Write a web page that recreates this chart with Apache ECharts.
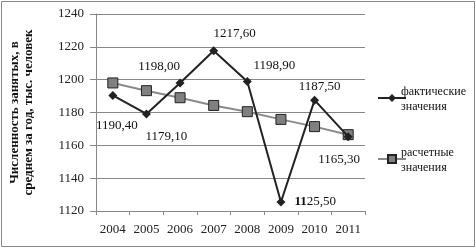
<!DOCTYPE html>
<html>
<head>
<meta charset="utf-8">
<script src="https://cdn.jsdelivr.net/npm/echarts@6/dist/echarts.min.js"></script>
<style>html,body{margin:0;padding:0;background:#fff}#c{width:476px;height:248px}</style>
</head>
<body>
<div id="c"></div>
<script>
const categories = ['2004','2005','2006','2007','2008','2009','2010','2011'];
const actualValues = [1190.4, 1179.1, 1198.0, 1217.6, 1198.9, 1125.5, 1187.5, 1165.3];
const trendValues = [1198.0, 1193.3, 1189.0, 1184.3, 1180.5, 1175.8, 1171.4, 1166.5];
const seriesNames = ['фактические', 'расчетные'];
const legendLines = [['фактические', 'значения'], ['расчетные', 'значения']];
const yTitle = 'Численность занятых, в\nсреднем за год, тыс. человек';

// label placement (style, not data)
const labelPlace = [
  {position:'bottom', distance:19, offset:[4,0]},
  {position:'bottom', distance:12, offset:[20,0]},
  {position:'top', distance:5, offset:[-21,0]},
  {position:'top', distance:6, offset:[21,0]},
  {position:'top', distance:5, offset:[27,0]},
  {position:'right', distance:9, offset:[0,0], bold:true},
  {position:'top', distance:3, offset:[5,0]},
  {position:'bottom', distance:12, offset:[-9,0]}
];
const fmt = v => v.toFixed(2).replace('.', ',');
const FONT = 'Liberation Serif';

const legendTop = [93, 154];
const legendGraphics = [];
legendLines.forEach((lines, k) => {
  lines.forEach((t, j) => {
    legendGraphics.push({type:'text', left:401, top: legendTop[k] - 7 + j*15, silent:true,
      style:{text:t, fontFamily:FONT, fontSize:12, fill:'#111'}});
  });
});

const chart = echarts.init(document.getElementById('c'), null, {renderer:'canvas'});
chart.setOption({
  animation:false,
  textStyle:{fontFamily:FONT},
  grid:{left:93, right:111, top:14, bottom:37, containLabel:false},
  graphic:[{type:'rect', shape:{x:1.5,y:1.5,width:473,height:245}, style:{fill:'none', stroke:'#888', lineWidth:1}, silent:true}].concat(legendGraphics),
  legend:{
    orient:'vertical', left:372, top:86, itemGap:47, itemWidth:28, itemHeight:10,
    data:seriesNames,
    formatter: () => ' ',
    textStyle:{fontFamily:FONT, fontSize:13, lineHeight:14}
  },
  xAxis:{
    type:'category', data:categories, boundaryGap:true,
    axisLine:{show:false},
    axisTick:{show:true, length:4, lineStyle:{color:'#888'}},
    axisLabel:{fontFamily:FONT, fontSize:13, color:'#222', margin:12, interval:0}
  },
  yAxis:{
    type:'value', min:1120, max:1240, interval:20,
    name:yTitle, nameLocation:'middle', nameRotate:90, nameGap:60,
    nameTextStyle:{fontFamily:FONT, fontSize:13, fontWeight:'bold', color:'#111', lineHeight:14},
    axisLine:{show:true, lineStyle:{color:'#888'}},
    axisTick:{show:true, length:6, lineStyle:{color:'#888'}},
    axisLabel:{fontFamily:FONT, fontSize:13, color:'#222', margin:12, formatter: v => String(v)},
    splitLine:{lineStyle:{color:'#888', width:1}}
  },
  series:[
    {
      name:seriesNames[0], type:'line', z:3,
      data: actualValues.map((v,i)=>({
        value:v,
        label:{show:true, position:labelPlace[i].position, distance:labelPlace[i].distance, offset:labelPlace[i].offset,
          formatter: labelPlace[i].bold ? ('{b|' + fmt(v).slice(0,2) + '}' + fmt(v).slice(2)) : fmt(v)}
      })),
      symbol:'diamond', symbolSize:9,
      itemStyle:{color:'#222'},
      lineStyle:{color:'#222', width:2},
      label:{fontFamily:FONT, fontSize:13, color:'#111',
        rich:{b:{fontFamily:FONT, fontSize:13, fontWeight:'bold', color:'#111'}}}
    },
    {
      name:seriesNames[1], type:'line', z:2,
      data:trendValues,
      symbol:'rect', symbolSize:10,
      itemStyle:{color:'#808080', borderColor:'#222', borderWidth:1},
      lineStyle:{color:'#8a8a8a', width:2}
    }
  ]
});
</script>
</body>
</html>
